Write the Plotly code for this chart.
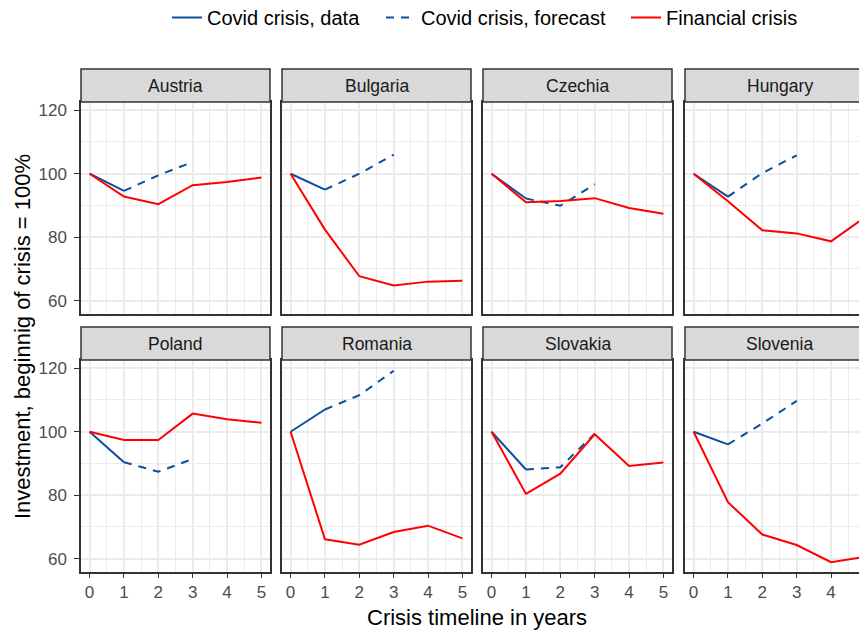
import plotly.graph_objects as go

# page offset (body margin) compensation
OFF = 8
W, H = 867 - OFF, 630 - OFF

countries = ["Austria", "Bulgaria", "Czechia", "Hungary",
             "Poland", "Romania", "Slovakia", "Slovenia"]
years_data = [0, 1]
years_forecast = [1, 2, 3]
years_fin = [0, 1, 2, 3, 4, 5]

covid_data = {
    "Austria": [100, 94.6], "Bulgaria": [100, 95.0], "Czechia": [100, 92.2],
    "Hungary": [100, 92.8], "Poland": [100, 90.4], "Romania": [100, 107.0],
    "Slovakia": [100, 88.1], "Slovenia": [100, 96.0],
}
covid_forecast = {
    "Austria": [94.6, 99.5, 103.7], "Bulgaria": [95.0, 100.0, 106.0],
    "Czechia": [92.2, 89.9, 96.7], "Hungary": [92.8, 100.2, 105.8],
    "Poland": [90.4, 87.4, 91.4], "Romania": [107.0, 111.5, 119.2],
    "Slovakia": [88.1, 88.8, 99.4], "Slovenia": [96.0, 102.6, 109.7],
}
financial = {
    "Austria": [100, 92.8, 90.4, 96.4, 97.4, 98.8],
    "Bulgaria": [100, 82.4, 67.7, 64.8, 66.0, 66.3],
    "Czechia": [100, 91.0, 91.4, 92.3, 89.2, 87.4],
    "Hungary": [100, 91.3, 82.2, 81.2, 78.7, 86.4],
    "Poland": [100, 97.4, 97.4, 105.7, 103.9, 102.8],
    "Romania": [100, 66.1, 64.4, 68.4, 70.4, 66.4],
    "Slovakia": [100, 80.4, 86.8, 99.2, 89.2, 90.3],
    "Slovenia": [100, 77.8, 67.6, 64.3, 58.9, 60.6],
}
y_ticks = [60, 80, 100, 120]
x_ticks = [0, 1, 2, 3, 4, 5]

BLUE = "#0B4F9C"
RED = "#FF0000"
FONT = "Liberation Sans, Arial, sans-serif"
GRID = "#EBEBEB"
BORDER = "#333333"


def px(x):
    return (x - OFF) / W


def py(y):
    return 1 - (y - OFF) / H


cols_px = [(81, 270), (282, 471), (483, 672), (685, 867)]
rows_px = [(102, 314), (360, 572)]
strips_px = [(69, 102), (327, 360)]
unit = (270 - 81) / 5.5

fig = go.Figure()
layout = {}
shapes = []
annotations = []

for i, c in enumerate(countries):
    r, k = divmod(i, 4)
    n = i + 1
    xa = "x" if n == 1 else f"x{n}"
    ya = "y" if n == 1 else f"y{n}"
    fig.add_trace(go.Scatter(x=years_data, y=covid_data[c], mode="lines",
                             line=dict(color=BLUE, width=2),
                             name="Covid crisis, data", legend="legend",
                             showlegend=(i == 0), xaxis=xa, yaxis=ya))
    fig.add_trace(go.Scatter(x=years_forecast, y=covid_forecast[c], mode="lines",
                             line=dict(color=BLUE, width=2, dash="8px,7px"),
                             name="Covid crisis, forecast", legend="legend2",
                             showlegend=(i == 0), xaxis=xa, yaxis=ya))
    fig.add_trace(go.Scatter(x=years_fin, y=financial[c], mode="lines",
                             line=dict(color=RED, width=2),
                             name="Financial crisis", legend="legend3",
                             showlegend=(i == 0), xaxis=xa, yaxis=ya))
    x0, x1 = cols_px[k]
    y0, y1 = rows_px[r]
    last = (k == 3)
    xr = [-0.25, -0.25 + (x1 - x0) / unit] if last else [-0.25, 5.25]
    layout["xaxis" + ("" if n == 1 else str(n))] = dict(
        domain=[px(x0), min(px(x1), 1.0)], range=xr, anchor=ya,
        tickvals=x_ticks, showticklabels=(r == 1),
        ticks="outside" if r == 1 else "", ticklen=4, tickcolor=BORDER, tickwidth=1.2,
        ticklabeloverflow="allow",
        tickfont=dict(size=17, color="#4D4D4D", family=FONT),
        showgrid=True, gridcolor=GRID, gridwidth=1.5,
        minor=dict(dtick=0.5, tick0=0, showgrid=True, gridcolor=GRID, gridwidth=0.8),
        showline=True, linecolor=BORDER, linewidth=1.5, mirror=True,
        zeroline=False, fixedrange=True, automargin=False,
    )
    layout["yaxis" + ("" if n == 1 else str(n))] = dict(
        domain=[py(y1), py(y0)], range=[55.8, 122.6], anchor=xa,
        tickvals=y_ticks, showticklabels=(k == 0),
        ticks="outside" if k == 0 else "", ticklen=5, tickcolor=BORDER, tickwidth=1.2,
        ticklabelstandoff=4,
        tickfont=dict(size=17, color="#4D4D4D", family=FONT),
        showgrid=True, gridcolor=GRID, gridwidth=1.5,
        minor=dict(dtick=10, tick0=60, showgrid=True, gridcolor=GRID, gridwidth=0.8),
        showline=True, linecolor=BORDER, linewidth=1.5, mirror=(not last),
        zeroline=False, fixedrange=True, automargin=False,
    )
    s0, s1 = strips_px[r]
    sx1 = (x1 + 7) if last else x1
    shapes.append(dict(type="rect", xref="paper", yref="paper",
                       x0=px(x0), x1=px(sx1), y0=py(s1), y1=py(s0),
                       fillcolor="#D9D9D9", line=dict(color=BORDER, width=1.5),
                       layer="above"))
    annotations.append(dict(text=c, xref="paper", yref="paper",
                            x=px((x0 + sx1) / 2), y=py((s0 + s1) / 2),
                            xanchor="center", yanchor="middle", showarrow=False,
                            font=dict(size=17.5, color="#1A1A1A", family=FONT)))

annotations.append(dict(text="Crisis timeline in years", xref="paper", yref="paper",
                        x=px(477), y=py(617), xanchor="center", yanchor="middle",
                        showarrow=False, font=dict(size=22, color="#000000", family=FONT)))
annotations.append(dict(text="Investment, beginnig of crisis = 100%", xref="paper",
                        yref="paper", x=px(22), y=py(337), textangle=-90,
                        xanchor="center", yanchor="middle", showarrow=False,
                        font=dict(size=22, color="#000000", family=FONT)))

leg_common = dict(orientation="h", yanchor="middle", y=py(17.5), xanchor="left",
                  font=dict(size=20, color="#000000", family=FONT),
                  bgcolor="rgba(0,0,0,0)", borderwidth=0)

fig.update_layout(
    width=W, height=H, margin=dict(l=0, r=0, t=0, b=0, autoexpand=False),
    paper_bgcolor="white", plot_bgcolor="white",
    font=dict(family=FONT),
    shapes=shapes, annotations=annotations,
    legend=dict(x=px(167), **leg_common),
    legend2=dict(x=px(381), **leg_common),
    legend3=dict(x=px(626), **leg_common),
    **layout,
)

fig.write_html("out.html")
